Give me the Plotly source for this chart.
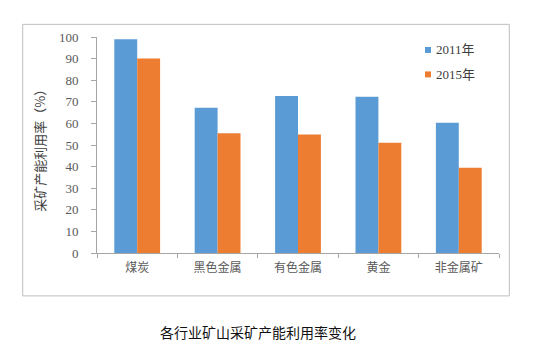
import plotly.graph_objects as go

categories = ["煤炭", "黑色金属", "有色金属", "黄金", "非金属矿"]
series_names = ["2011年", "2015年"]
values_2011 = [99.0, 67.2, 72.7, 72.3, 60.3]
values_2015 = [90.1, 55.4, 54.9, 51.0, 39.5]
colors = ["#5B9BD5", "#ED7D31"]
y_ticks = [0, 10, 20, 30, 40, 50, 60, 70, 80, 90, 100]
y_title = "采矿产能利用率（%）"
caption = "各行业矿山采矿产能利用率变化"

OFF = 8  # page body margin
W, H = 534, 357
L = 97 - OFF
T = 37 - OFF
R = W - (499 - OFF)
B = H - (253.5 - OFF)
pw, ph = W - L - R, H - T - B

def px(x):
    return (x - OFF - L) / pw

def py(y):
    return (H - B - (y - OFF)) / ph

fig = go.Figure()
for name, vals, col in zip(series_names, [values_2011, values_2015], colors):
    fig.add_trace(go.Bar(x=categories, y=vals, name=name, marker=dict(color=col, line=dict(width=0)), showlegend=False))

fig.update_layout(
    width=W, height=H,
    margin=dict(l=L, r=R, t=T, b=B),
    paper_bgcolor="white", plot_bgcolor="white",
    barmode="group", bargap=0.43, bargroupgap=0,
    font=dict(family="Noto Sans CJK SC", color="#595959"),
    xaxis=dict(showline=True, linecolor="#A6A6A6", linewidth=1, ticks="outside", ticklen=4,
               tickcolor="#A6A6A6", tickson="boundaries", showgrid=False,
               ticklabelstandoff=4,
               tickfont=dict(size=12, color="#595959", family="Noto Sans CJK SC")),
    yaxis=dict(range=[0, 100], tickvals=y_ticks, showline=True, linecolor="#A6A6A6", linewidth=1,
               ticks="outside", ticklen=5, tickcolor="#A6A6A6", showgrid=False, zeroline=False,
               ticklabelstandoff=10,
               tickfont=dict(size=13, color="#595959", family="Liberation Serif")),
)

# chart frame
fig.add_shape(type="rect", xref="paper", yref="paper",
              x0=px(22.7), x1=px(509.3), y0=py(296.5), y1=py(24.3),
              line=dict(color="#BFBFBF", width=1), fillcolor="rgba(0,0,0,0)", layer="below")

# y title
fig.add_annotation(text=y_title, xref="paper", yref="paper", x=px(40), y=py(148),
                   textangle=-90, showarrow=False, xanchor="center", yanchor="middle",
                   font=dict(size=13, color="#404040", family="Noto Sans CJK SC"))

# legend
for i, (name, col) in enumerate(zip(series_names, colors)):
    yc = 50 + i * 24.5
    fig.add_shape(type="rect", xref="paper", yref="paper",
                  x0=px(425), x1=px(431), y0=py(yc + 3), y1=py(yc - 3),
                  line=dict(width=0), fillcolor=col)
    fig.add_annotation(text=name, xref="paper", yref="paper", x=px(434), y=py(yc),
                       showarrow=False, xanchor="left", yanchor="middle",
                       font=dict(size=13, color="#404040", family="Liberation Serif, Noto Sans CJK SC"))

# caption
fig.add_annotation(text=caption, xref="paper", yref="paper", x=px(258), y=py(333),
                   showarrow=False, xanchor="center", yanchor="middle",
                   font=dict(size=14, color="#111111", family="Noto Sans CJK SC"))

fig.write_html("out.html")
